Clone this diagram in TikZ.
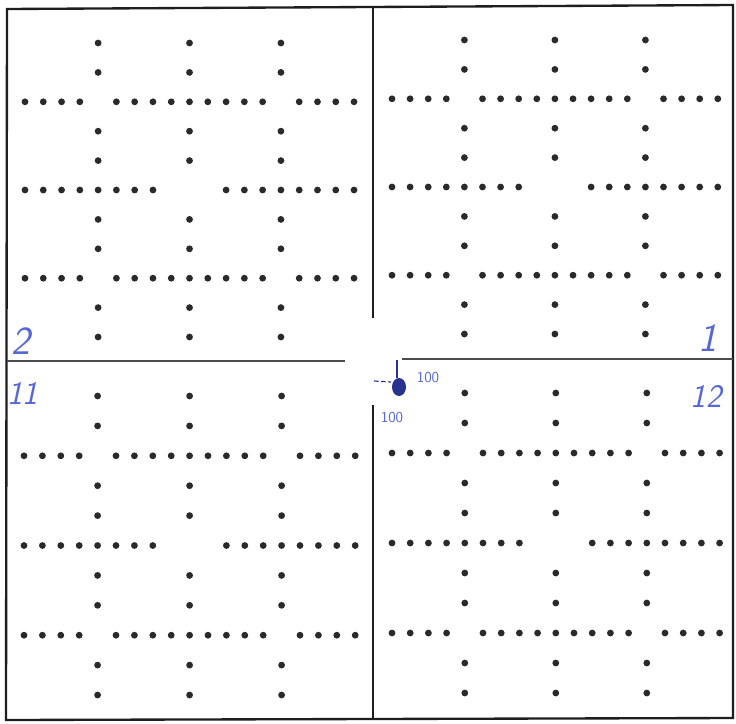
\documentclass[tikz,border=0pt]{standalone}
\usepackage{xcolor}
\usepackage{tikz}
\definecolor{PlanInk}{HTML}{1E1E1E}
\definecolor{PlanDot}{HTML}{2A2A2A}
\definecolor{PenBlue}{HTML}{5568D6}
\definecolor{PenNavy}{HTML}{27338F}
% one quadrant of dots: #1,#2 first dot, #3 step across, #4 step down
\newcommand{\dotfield}[4]{%
  \foreach \k in {4,9,14}{\foreach \j in {0,1,3,4,6,7,9,10}{\fill[PlanDot] (#1+\k*#3,#2+\j*#4) circle (3.4);}}
  \foreach \j in {2,8}{\foreach \k in {0,1,2,3,5,6,7,8,9,10,11,12,13,15,16,17,18}{\fill[PlanDot] (#1+\k*#3,#2+\j*#4) circle (3.4);}}
  \foreach \k in {0,1,2,3,4,5,6,7,11,12,13,14,15,16,17,18}{\fill[PlanDot] (#1+\k*#3,#2+5*#4) circle (3.4);}
}
\tikzset{pen/.style={text=PenBlue,font=\sffamily\slshape,inner sep=0pt}}

\begin{document}
\begin{tikzpicture}[x=0.03cm,y=-0.03cm]
\path[use as bounding box] (0,0) rectangle (736,723);
\fill[white] (0,0) rectangle (736,723);
% frame and cross
\draw[PlanInk,line width=2pt] (7,9) -- (733,5) -- (733,718) -- (6,720) -- cycle;
\draw[PlanInk,line width=2.2pt] (373,6) -- (373,318);
\draw[PlanInk,line width=2.2pt] (373,405) -- (373,719);
\draw[PlanInk!80,line width=1.7pt] (7,361) -- (345,361);
\draw[PlanInk!80,line width=1.7pt] (402,359) -- (733,359);
% dots
\dotfield{25}{43}{18.28}{29.4}
\dotfield{392}{40}{18.1}{29.4}
\dotfield{24}{396}{18.4}{29.9}
\dotfield{392}{393}{18.2}{30}
% pen marks
\fill[PenNavy] (399,387) ellipse (7 and 9);
\draw[PenNavy,line width=1pt] (397,360) -- (397,378);
\draw[PenNavy,line width=1pt,dash pattern=on 4pt off 2pt] (374,381) -- (391,382);
\node[pen,font=\sffamily\fontsize{13}{13}\selectfont] (valR) at (428,378) {100};
\node[pen,font=\sffamily\fontsize{13}{13}\selectfont] (valD) at (392,418) {100};
\node[pen,font=\sffamily\slshape\fontsize{34}{34}\selectfont] (labTwo) at (21,341) {2};
\node[pen,font=\sffamily\slshape\fontsize{28}{28}\selectfont] (labEleven) at (23,393) {11};
\node[pen,font=\sffamily\slshape\fontsize{34}{34}\selectfont] (labOne) at (708,338) {1};
\node[pen,font=\sffamily\slshape\fontsize{28}{28}\selectfont] (labTwelve) at (706,396) {12};
\end{tikzpicture}
\end{document}
